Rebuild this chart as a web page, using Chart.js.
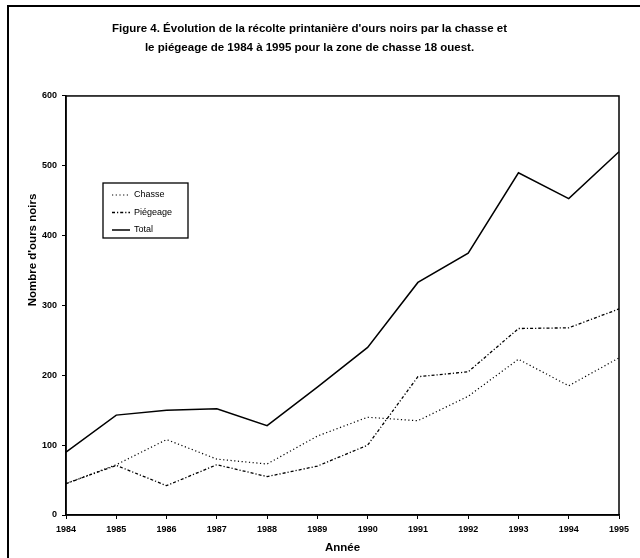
<!DOCTYPE html>
<html>
<head>
<meta charset="utf-8">
<title>Récolte printanière d'ours noirs</title>
<script src="https://cdn.jsdelivr.net/npm/chart.js@4.4.0/dist/chart.umd.min.js"></script>
<style>
  body { margin: 0; background: #fff; }
  #wrap { position: relative; width: 640px; height: 558px; }
</style>
</head>
<body>
<div id="wrap"><canvas id="chart"></canvas></div>
<script>
// values
const years = ['1984','1985','1986','1987','1988','1989','1990','1991','1992','1993','1994','1995'];
const chasse = [45, 72, 108, 80, 73, 113, 140, 135, 170, 223, 185, 225];
const piegeage = [45, 71, 42, 72, 55, 70, 100, 198, 205, 267, 268, 295];
const total = [90, 143, 150, 152, 128, 183, 240, 333, 375, 490, 453, 520];
const yMin = 0, yMax = 600, yStep = 100;

const FONT = '"Liberation Sans", Arial, sans-serif';
Chart.defaults.font.family = FONT;
Chart.defaults.color = '#000';

// frame around the plot + outer page edge of the scan
const framePlugin = {
  id: 'frame',
  beforeDatasetsDraw(chart) {
    const {ctx, chartArea: a} = chart;
    ctx.save();
    ctx.strokeStyle = '#000';
    ctx.lineWidth = 1.5;
    ctx.strokeRect(a.left, a.top, a.right - a.left, a.bottom - a.top);
    ctx.lineWidth = 2;
    ctx.beginPath();
    ctx.moveTo(8, 558); ctx.lineTo(8, 6); ctx.lineTo(640, 6);
    ctx.stroke();
    ctx.restore();
  }
};

// y title sits above the axis centre in the original, so draw it by hand
const yTitlePlugin = {
  id: 'yTitle',
  afterDraw(chart) {
    const ctx = chart.ctx;
    ctx.save();
    ctx.translate(33, 250);
    ctx.rotate(-Math.PI / 2);
    ctx.font = 'bold 11.5px ' + FONT;
    ctx.fillStyle = '#000';
    ctx.textAlign = 'center';
    ctx.textBaseline = 'middle';
    ctx.fillText("Nombre d'ours noirs", 0, 0);
    ctx.restore();
  }
};

// boxed legend inside the plot
const boxLegend = {
  id: 'boxLegend',
  afterDatasetsDraw(chart) {
    const ctx = chart.ctx;
    const x = 103, y = 183, w = 85, h = 55;
    ctx.save();
    ctx.fillStyle = '#fff';
    ctx.fillRect(x, y, w, h);
    ctx.strokeStyle = '#000';
    ctx.lineWidth = 1.3;
    ctx.strokeRect(x, y, w, h);
    ctx.font = '9px ' + FONT;
    ctx.textBaseline = 'middle';
    chart.data.datasets.forEach((ds, i) => {
      const ry = y + 12 + i * 17.5;
      ctx.beginPath();
      ctx.setLineDash(ds.borderDash || []);
      ctx.lineWidth = ds.borderWidth;
      ctx.moveTo(x + 9, ry);
      ctx.lineTo(x + 27, ry);
      ctx.stroke();
      ctx.setLineDash([]);
      ctx.fillStyle = '#000';
      ctx.fillText(ds.label, x + 31, ry);
    });
    ctx.restore();
  }
};

new Chart(document.getElementById('chart'), {
  type: 'line',
  data: {
    labels: years,
    datasets: [{
      label: 'Chasse',
      data: chasse,
      borderColor: '#000',
      borderWidth: 1.2,
      borderDash: [1.2, 2.5]
    }, {
      label: 'Piégeage',
      data: piegeage,
      borderColor: '#000',
      borderWidth: 1.3,
      borderDash: [3, 2, 1.2, 2]
    }, {
      label: 'Total',
      data: total,
      borderColor: '#000',
      borderWidth: 1.5
    }]
  },
  options: {
    responsive: true,
    maintainAspectRatio: false,
    animation: false,
    elements: { point: { radius: 0 }, line: { tension: 0 } },
    layout: { padding: { left: 0, right: 21, top: 0, bottom: 0 } },
    plugins: {
      legend: { display: false },
      tooltip: { enabled: false },
      title: {
        display: true,
        text: ["Figure 4. Évolution de la récolte printanière d'ours noirs par la chasse et",
               "le piégeage de 1984 à 1995 pour la zone de chasse 18 ouest."],
        color: '#000',
        font: { size: 11.5, weight: 'bold', lineHeight: 1.65 },
        padding: { top: 19.5, bottom: 38.5 }
      }
    },
    scales: {
      x: {
        offset: false,
        grid: { drawOnChartArea: false, color: '#000', tickLength: 4 },
        border: { color: '#000', width: 1.5 },
        ticks: { font: { size: 9, weight: 'bold' }, padding: 5, maxRotation: 0, autoSkip: false },
        title: {
          display: true,
          text: 'Année',
          font: { size: 11.5, weight: 'bold' },
          padding: { top: 0, bottom: 3.4 }
        },
        afterFit(scale) { scale.height = 43; }
      },
      y: {
        min: yMin,
        max: yMax,
        grid: { drawOnChartArea: false, color: '#000', tickLength: 4 },
        border: { color: '#000', width: 1.5 },
        ticks: { stepSize: yStep, font: { size: 9, weight: 'bold' }, padding: 5 },
        afterFit(scale) { scale.width = 66; }
      }
    }
  },
  plugins: [framePlugin, yTitlePlugin, boxLegend]
});
</script>
</body>
</html>
